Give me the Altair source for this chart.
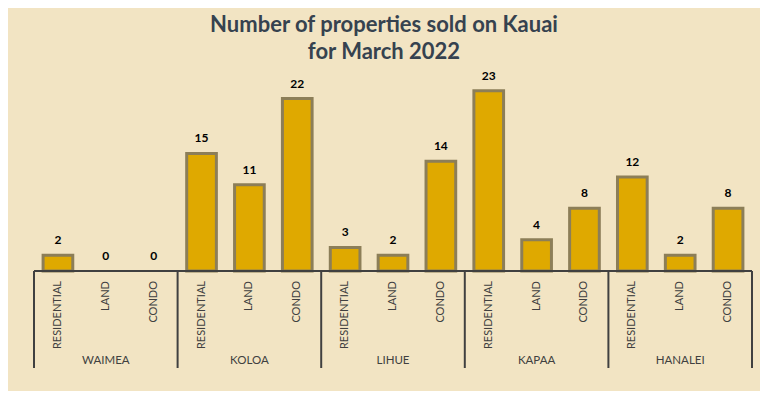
import altair as alt
import pandas as pd

groups = ["WAIMEA", "KOLOA", "LIHUE", "KAPAA", "HANALEI"]
types = ["RESIDENTIAL", "LAND", "CONDO"]
values = [2, 0, 0, 15, 11, 22, 3, 2, 14, 23, 4, 8, 12, 2, 8]
title_lines = ["Number of properties sold on Kauai", "for March 2022"]

W, H = 718, 196
rows = []
for gi, g in enumerate(groups):
    for ti, t in enumerate(types):
        i = gi * 3 + ti
        rows.append({"idx": i, "group": g, "type": t, "value": values[i],
                     "x0": i - 0.31, "x1": i + 0.31})
df = pd.DataFrame(rows)
gdf = pd.DataFrame({"group": groups, "center": [gi * 3 + 1 for gi in range(len(groups))]})
sep = pd.DataFrame({"pos": [gi * 3 - 0.5 for gi in range(len(groups) + 1)]})
tdf = pd.DataFrame({"line": title_lines, "ypos": [-50, -23]})

xs = alt.Scale(domain=[-0.5, 14.5], nice=False, zero=False)
ys = alt.Scale(domain=[0, 25], nice=False)
base = alt.Chart(df)

bars = base.transform_filter("datum.value > 0").mark_bar(
    color="#DFA900", stroke="#8C7E58", strokeWidth=3
).encode(
    x=alt.X("x0:Q", scale=xs, axis=None),
    x2="x1:Q",
    y=alt.Y("value:Q", scale=ys, axis=None),
    y2=alt.datum(0),
)
vals = base.mark_text(dy=-8, baseline="bottom", fontSize=12, fontWeight="bold",
                      font="Lato", color="#000000").encode(
    x=alt.X("idx:Q", scale=xs), y=alt.Y("value:Q", scale=ys), text="value:Q")
sub = base.mark_text(angle=270, align="right", baseline="middle", fontSize=11,
                     font="Lato", color="#404040").encode(
    x=alt.X("idx:Q", scale=xs), y=alt.value(H + 10), text="type:N")
glab = alt.Chart(gdf).mark_text(baseline="middle", fontSize=11.5, font="Lato",
                                color="#404040").encode(
    x=alt.X("center:Q", scale=xs), y=alt.value(H + 90), text="group:N")
seps = alt.Chart(sep).mark_rule(color="#404040", strokeWidth=2).encode(
    x=alt.X("pos:Q", scale=xs), y=alt.value(H), y2=alt.value(H + 97))
axisline = alt.Chart(sep).mark_rule(color="#404040", strokeWidth=2).encode(
    x=alt.value(0), x2=alt.value(W), y=alt.value(H))
title = alt.Chart(tdf).mark_text(fontSize=22, fontWeight="bold", font="Lato",
                                 color="#36424F", baseline="middle").encode(
    x=alt.value(350), y=alt.Y("ypos:Q", scale=None), text="line:N")

chart = alt.layer(bars, vals, sub, glab, seps, axisline, title).properties(
    width=W, height=H,
    autosize=alt.AutoSizeParams(type="none"),
    padding={"left": 26, "top": 67, "right": 8, "bottom": 120},
    background="#F2E4C3",
).configure_view(stroke=None)

chart.save("out.html", embed_options={"renderer": "svg", "actions": False})
